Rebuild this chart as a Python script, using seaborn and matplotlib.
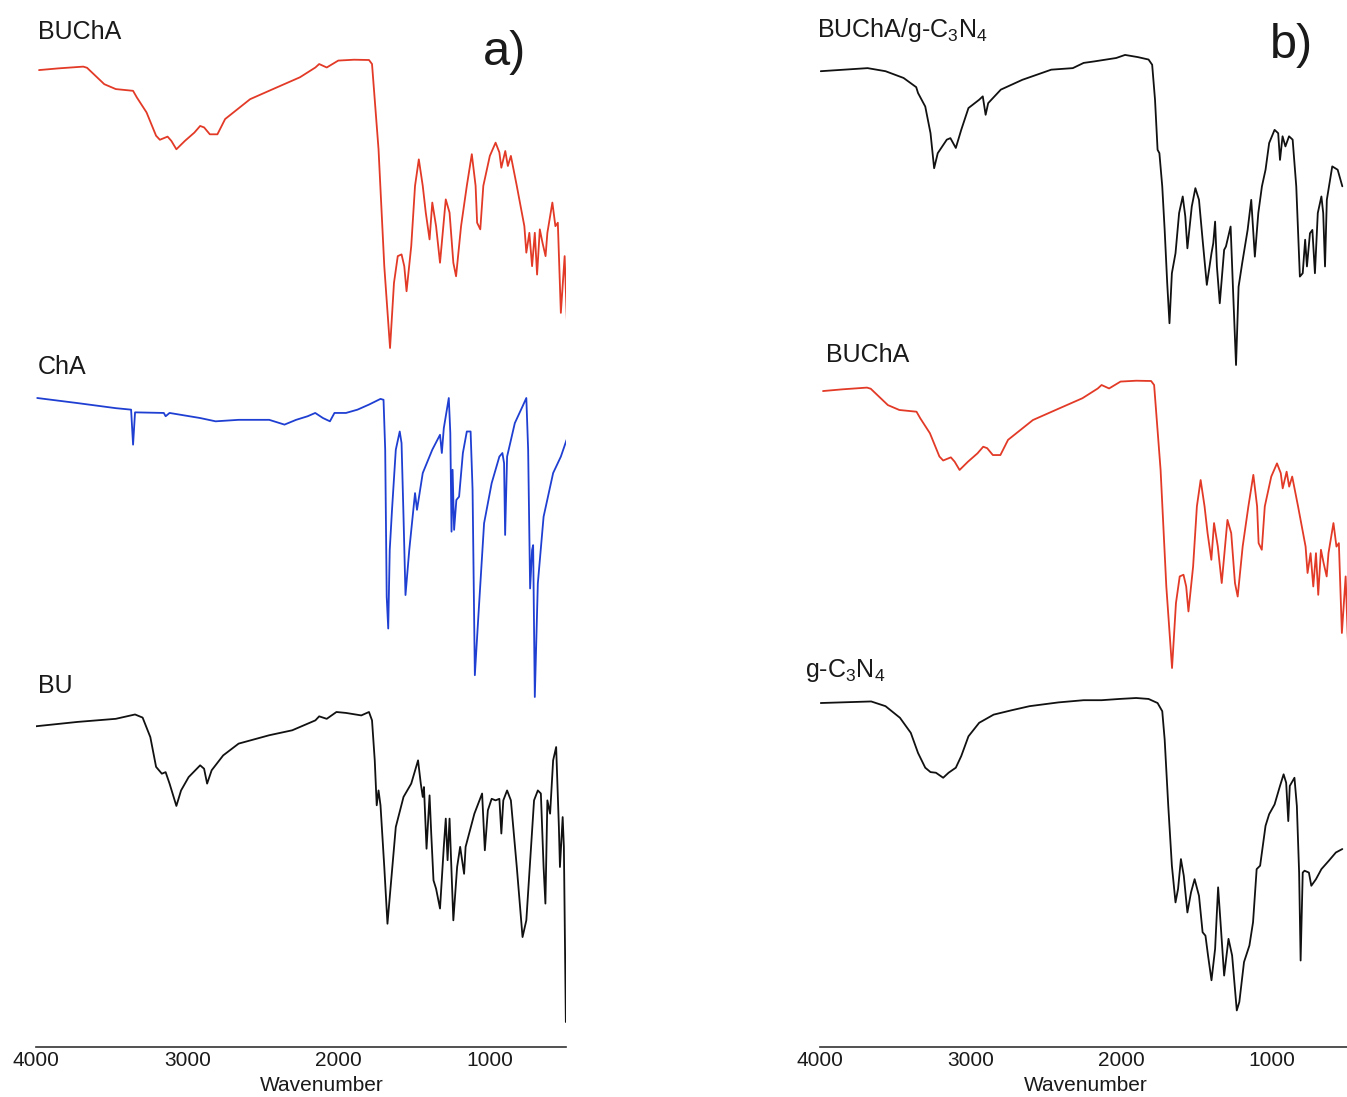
import matplotlib
matplotlib.use("Agg")
import matplotlib.pyplot as plt
import seaborn as sns
import numpy as np

# --- IR spectra (wavenumber, normalised transmittance) ---
buc_wn = [3980, 3850, 3688, 3663, 3549, 3473, 3359, 3334, 3270, 3207, 3182, 3131, 3106, 3073,
          3017, 2954, 2916, 2890, 2852, 2802, 2751, 2586, 2409, 2257, 2155, 2130, 2080, 2004,
          1900, 1801, 1781, 1738, 1700, 1662, 1636, 1611, 1586, 1568, 1553, 1522, 1497, 1472,
          1446, 1426, 1401, 1383, 1358, 1332, 1294, 1269, 1244, 1226, 1193, 1155, 1122, 1097,
          1087, 1066, 1046, 1003, 965, 940, 927, 901, 884, 864, 825, 775, 762, 742, 724, 706,
          691, 673, 655, 635, 623, 590, 570, 554, 534, 509, 488]
buc_t = [0.965, 0.971, 0.977, 0.973, 0.916, 0.899, 0.893, 0.870, 0.818, 0.737, 0.723, 0.734,
         0.719, 0.690, 0.719, 0.748, 0.771, 0.766, 0.742, 0.742, 0.795, 0.864, 0.905, 0.940,
         0.974, 0.986, 0.974, 0.998, 1.001, 1.0, 0.986, 0.690, 0.284, 0.0, 0.226, 0.319, 0.325,
         0.284, 0.197, 0.354, 0.563, 0.655, 0.563, 0.470, 0.377, 0.505, 0.423, 0.296, 0.516,
         0.470, 0.296, 0.249, 0.423, 0.563, 0.673, 0.563, 0.435, 0.412, 0.563, 0.667, 0.713,
         0.679, 0.626, 0.684, 0.632, 0.667, 0.563, 0.423, 0.331, 0.400, 0.284, 0.400, 0.255,
         0.412, 0.365, 0.319, 0.400, 0.505, 0.423, 0.435, 0.122, 0.319, 0.006]

cha_wn = [3992, 3726, 3473, 3372, 3359, 3346, 3156, 3144, 3118, 2916, 2814, 2662, 2460, 2359,
          2282, 2206, 2156, 2105, 2059, 2029, 1953, 1877, 1801, 1725, 1705, 1694, 1684, 1674,
          1664, 1649, 1624, 1598, 1586, 1573, 1560, 1535, 1497, 1484, 1446, 1383, 1332, 1320,
          1307, 1274, 1264, 1256, 1249, 1239, 1224, 1206, 1181, 1155, 1130, 1117, 1102, 1079,
          1041, 991, 940, 920, 909, 902, 889, 838, 787, 762, 750, 737, 724, 717, 706, 686, 648,
          585, 534, 496]
cha_t = [1.0, 0.983, 0.966, 0.961, 0.844, 0.952, 0.950, 0.939, 0.950, 0.933, 0.922, 0.927,
         0.927, 0.911, 0.927, 0.939, 0.950, 0.933, 0.922, 0.950, 0.950, 0.961, 0.978, 0.997,
         0.994, 0.827, 0.335, 0.229, 0.492, 0.626, 0.827, 0.888, 0.849, 0.603, 0.341, 0.492,
         0.682, 0.626, 0.749, 0.827, 0.877, 0.816, 0.899, 1.0, 0.883, 0.553, 0.760, 0.559,
         0.659, 0.670, 0.816, 0.888, 0.888, 0.693, 0.073, 0.268, 0.581, 0.715, 0.804, 0.816,
         0.782, 0.542, 0.804, 0.916, 0.972, 1.0, 0.827, 0.363, 0.492, 0.508, 0.0, 0.380,
         0.603, 0.749, 0.804, 0.860]

bu_wn = [4000, 3726, 3473, 3346, 3296, 3245, 3207, 3169, 3144, 3118, 3073, 3042, 2992, 2916,
         2890, 2870, 2840, 2764, 2662, 2460, 2308, 2155, 2130, 2080, 2016, 1953, 1852, 1801,
         1781, 1763, 1750, 1738, 1725, 1700, 1679, 1662, 1624, 1573, 1522, 1477, 1459, 1446,
         1438, 1421, 1401, 1390, 1375, 1358, 1332, 1307, 1294, 1282, 1269, 1244, 1219, 1199,
         1173, 1163, 1105, 1054, 1036, 1016, 991, 965, 940, 927, 914, 889, 864, 825, 787, 762,
         711, 686, 666, 648, 636, 623, 605, 585, 565, 547, 540, 522, 514, 501]
bu_t = [0.954, 0.968, 0.978, 0.992, 0.982, 0.919, 0.823, 0.801, 0.806, 0.769, 0.697, 0.747,
        0.790, 0.828, 0.817, 0.769, 0.812, 0.860, 0.898, 0.925, 0.941, 0.973, 0.986, 0.978,
        1.0, 0.997, 0.989, 1.0, 0.973, 0.844, 0.699, 0.747, 0.699, 0.5, 0.317, 0.414, 0.629,
        0.726, 0.769, 0.844, 0.769, 0.726, 0.758, 0.559, 0.731, 0.608, 0.457, 0.430, 0.366,
        0.565, 0.656, 0.522, 0.656, 0.328, 0.5, 0.565, 0.478, 0.565, 0.672, 0.737, 0.554,
        0.683, 0.720, 0.715, 0.720, 0.608, 0.715, 0.747, 0.715, 0.5, 0.274, 0.328, 0.715,
        0.747, 0.737, 0.5, 0.382, 0.715, 0.672, 0.844, 0.887, 0.629, 0.5, 0.661, 0.565, 0.0]

bucg_wn = [3995, 3684, 3565, 3445, 3361, 3349, 3301, 3266, 3242, 3218, 3158, 3134, 3098, 3062,
           3014, 2943, 2919, 2900, 2883, 2799, 2656, 2464, 2321, 2249, 2177, 2033, 1974, 1890,
           1818, 1794, 1775, 1758, 1746, 1727, 1711, 1694, 1679, 1663, 1639, 1615, 1591, 1574,
           1560, 1531, 1507, 1483, 1459, 1431, 1400, 1388, 1376, 1364, 1345, 1316, 1304, 1273,
           1256, 1237, 1220, 1196, 1160, 1136, 1112, 1089, 1065, 1041, 1017, 981, 957, 945, 928,
           909, 885, 861, 837, 813, 794, 778, 766, 746, 730, 713, 694, 670, 658, 646, 634, 598,
           562, 531]
bucg_t = [0.957, 0.967, 0.957, 0.935, 0.905, 0.886, 0.842, 0.755, 0.641, 0.690, 0.734, 0.739,
          0.707, 0.766, 0.837, 0.864, 0.875, 0.815, 0.853, 0.897, 0.929, 0.962, 0.967, 0.984,
          0.989, 1.0, 1.01, 1.003, 0.995, 0.978, 0.864, 0.701, 0.690, 0.582, 0.440, 0.266,
          0.136, 0.299, 0.364, 0.495, 0.549, 0.484, 0.380, 0.516, 0.576, 0.538, 0.408, 0.261,
          0.364, 0.397, 0.467, 0.321, 0.201, 0.375, 0.386, 0.451, 0.234, 0.0, 0.255, 0.332,
          0.440, 0.538, 0.353, 0.495, 0.582, 0.636, 0.723, 0.766, 0.755, 0.668, 0.745, 0.712,
          0.745, 0.734, 0.582, 0.288, 0.299, 0.408, 0.321, 0.429, 0.440, 0.299, 0.495, 0.549,
          0.495, 0.321, 0.538, 0.647, 0.636, 0.582]

gcn_wn = [3995, 3660, 3565, 3469, 3397, 3349, 3301, 3266, 3230, 3182, 3146, 3098, 3062, 3014,
          2943, 2847, 2727, 2608, 2416, 2249, 2130, 2010, 1900, 1818, 1758, 1727, 1711, 1687,
          1663, 1639, 1622, 1603, 1584, 1560, 1536, 1512, 1483, 1459, 1440, 1423, 1400, 1376,
          1356, 1340, 1316, 1287, 1263, 1232, 1215, 1184, 1148, 1124, 1100, 1077, 1041, 1017,
          981, 945, 921, 904, 890, 880, 849, 833, 818, 808, 794, 782, 753, 737, 706, 670, 622,
          574, 531]
gcn_t = [0.984, 0.989, 0.974, 0.937, 0.889, 0.825, 0.778, 0.764, 0.762, 0.746, 0.762, 0.778,
         0.815, 0.878, 0.921, 0.947, 0.961, 0.974, 0.986, 0.993, 0.993, 0.997, 1.0, 0.997,
         0.984, 0.958, 0.868, 0.656, 0.466, 0.349, 0.392, 0.487, 0.434, 0.317, 0.381, 0.423,
         0.370, 0.254, 0.243, 0.180, 0.101, 0.201, 0.397, 0.286, 0.116, 0.233, 0.180, 0.005,
         0.032, 0.159, 0.212, 0.286, 0.455, 0.466, 0.593, 0.630, 0.661, 0.720, 0.757, 0.730,
         0.608, 0.720, 0.746, 0.656, 0.444, 0.164, 0.444, 0.450, 0.444, 0.402, 0.423, 0.455,
         0.481, 0.508, 0.519]

RED, BLUE, BLACK = "#e23a27", "#1f3fd2", "#111111"
INK = "#1a1a1a"

sns.set_style("white")
plt.rcParams["font.family"] = ["Liberation Sans", "DejaVu Sans"]
plt.rcParams["mathtext.fontset"] = "custom"
plt.rcParams["mathtext.rm"] = "Liberation Sans"
plt.rcParams["text.color"] = INK
plt.rcParams["axes.labelcolor"] = INK
plt.rcParams["xtick.color"] = INK

W, H = 1347, 1097
fig = plt.figure(figsize=(W / 100, H / 100), dpi=100)
ax_a = fig.add_axes([36 / W, 1 - 1047 / H, 530 / W, 1047 / H])
ax_b = fig.add_axes([820 / W, 1 - 1047 / H, 527 / W, 1047 / H])

# (wn, t, colour, vertical offset, vertical scale)
panel_a = [(buc_wn, buc_t, RED, 6.99, 2.88),
           (cha_wn, cha_t, BLUE, 3.50, 2.99),
           (bu_wn, bu_t, BLACK, 0.25, 3.10)]
panel_b = [(bucg_wn, bucg_t, BLACK, 6.82, 3.07),
           (buc_wn, buc_t, RED, 3.79, 2.87),
           (gcn_wn, gcn_t, BLACK, 0.35, 3.14)]

for ax, traces in [(ax_a, panel_a), (ax_b, panel_b)]:
    for wn, t, col, off, sc in traces:
        y = np.array(t) * sc + off
        sns.lineplot(x=wn, y=y, ax=ax, color=col, linewidth=1.3,
                     estimator=None, sort=False)

ax_a.set_xlim(4000, 500)
ax_b.set_xlim(4000, 533)

for ax in (ax_a, ax_b):
    ax.set_ylim(0, 10.47)
    ax.set_yticks([])
    ax.set_ylabel("")
    for s in ("left", "right", "top"):
        ax.spines[s].set_visible(False)
    ax.spines["bottom"].set_color("#333333")
    ax.spines["bottom"].set_linewidth(1.2)
    ax.set_xticks([4000, 3000, 2000, 1000])
    ax.set_xticks([3500, 2500, 1500, 500], minor=True)
    ax.tick_params(axis="x", which="major", direction="in", length=6, width=1.2,
                   color="#333333", labelsize=15, pad=3)
    ax.tick_params(axis="x", which="minor", direction="in", length=4, width=1.2,
                   color="#333333")
    ax.set_xlabel("Wavenumber", fontsize=15, labelpad=1)
    ax.patch.set_alpha(0)

ax_a.xaxis.set_label_coords(0.54, -0.028)
ax_b.xaxis.set_label_coords(0.505, -0.028)

lab = dict(fontsize=18, ha="left", va="center", clip_on=False)
ax_a.text(3987, 10.15, "BUChA", **lab)
ax_a.text(3987, 6.80, "ChA", **lab)
ax_a.text(3987, 3.61, "BU", **lab)
ax_a.text(905, 9.95, "a)", fontsize=35, ha="center", va="center")

ax_b.text(4020, 10.17, r"BUChA/g-C$_\mathregular{3}$N$_\mathregular{4}$", **lab)
ax_b.text(3960, 6.92, "BUChA", **lab)
ax_b.text(4099, 3.77, r"g-C$_\mathregular{3}$N$_\mathregular{4}$", **lab)
ax_b.text(870, 10.02, "b)", fontsize=35, ha="center", va="center")

fig.savefig("out.png", dpi=100)
